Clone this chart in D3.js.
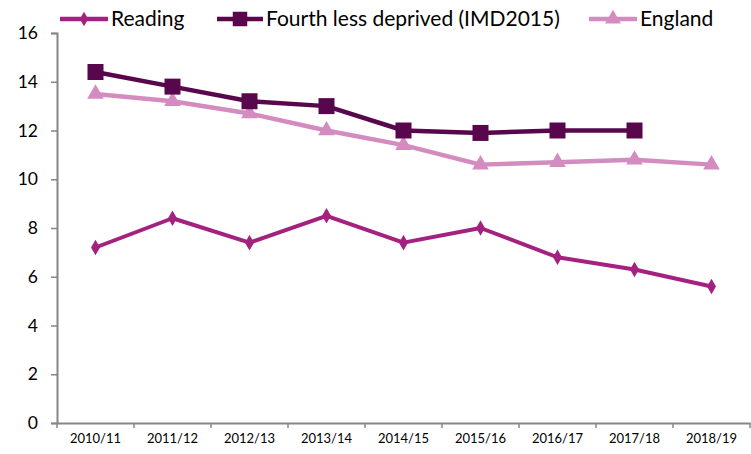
<!DOCTYPE html>
<html><head><meta charset="utf-8">
<script src="https://cdn.jsdelivr.net/npm/d3@7"></script>
<style>
body{margin:0;background:#fff;}
svg{display:block;}
text{font-family:Lato,"Open Sans",sans-serif;fill:#000;}
</style></head>
<body><svg id="c" width="751" height="454"></svg>
<script>
const categories = ["2010/11","2011/12","2012/13","2013/14","2014/15","2015/16","2016/17","2017/18","2018/19"];
const readingValues = [7.2, 8.4, 7.4, 8.5, 7.4, 8.0, 6.8, 6.3, 5.6];
const fourthValues = [14.4, 13.8, 13.2, 13.0, 12.0, 11.9, 12.0, 12.0, null];
const englandValues = [13.5, 13.2, 12.7, 12.0, 11.4, 10.6, 10.7, 10.8, 10.6];
const yTicks = [0, 2, 4, 6, 8, 10, 12, 14, 16];
const seriesNames = ["Reading", "Fourth less deprived (IMD2015)", "England"];

const colors = {reading:"#A5217F", fourth:"#58074D", england:"#D48BBF"};
const axisColor = "#868686";

const svg = d3.select("#c");
const plotLeft = 57, plotRight = 750, plotTop = 33, plotBottom = 423;

const x = d3.scaleBand().domain(categories).range([plotLeft, plotRight]).paddingInner(0).paddingOuter(0);
const y = d3.scaleLinear().domain([0, 16]).range([plotBottom, plotTop]);

// Y axis
const yAxis = svg.append("g").attr("transform", `translate(${plotLeft},0)`)
  .call(d3.axisLeft(y).tickValues(yTicks).tickSize(6).tickPadding(13).tickFormat(d3.format("d")));
yAxis.select(".domain").attr("stroke", axisColor).attr("stroke-width", 2);
yAxis.selectAll(".tick line").attr("stroke", axisColor).attr("stroke-width", 1.5);
yAxis.selectAll("text").style("font-size", "17.5px").style("font-family", "Lato,sans-serif").attr("fill", "#000");

// X axis
const xAxis = svg.append("g").attr("transform", `translate(0,${plotBottom})`)
  .call(d3.axisBottom(x).tickSize(0).tickPadding(11));
xAxis.select(".domain").attr("stroke", axisColor).attr("stroke-width", 2);
xAxis.selectAll("text").style("font-size", "13px").style("font-family", "Lato,sans-serif").attr("fill", "#000");
const boundaries = categories.map(c => x(c)).concat([x(categories[categories.length-1]) + x.bandwidth()]);
svg.append("g").selectAll("line").data(boundaries).join("line")
  .attr("x1", d => d).attr("x2", d => d).attr("y1", plotBottom).attr("y2", plotBottom + 5)
  .attr("stroke", axisColor).attr("stroke-width", 1.5);

const cx = c => x(c) + x.bandwidth() / 2;

function drawSeries(vals, color, width, symbolType, size) {
  const data = categories.map((c, i) => ({c, v: vals[i]}));
  const line = d3.line().defined(d => d.v != null).x(d => cx(d.c)).y(d => y(d.v));
  svg.append("path").datum(data).attr("d", line).attr("fill", "none")
    .attr("stroke", color).attr("stroke-width", width).attr("stroke-linejoin", "round");
  svg.append("g").selectAll("path").data(data.filter(d => d.v != null)).join("path")
    .attr("transform", d => `translate(${cx(d.c)},${y(d.v)})`)
    .attr("d", d3.symbol().type(symbolType).size(size)).attr("fill", color);
}

drawSeries(englandValues, colors.england, 4.5, d3.symbolTriangle, 120);
drawSeries(fourthValues, colors.fourth, 4.5, d3.symbolSquare, 256);
drawSeries(readingValues, colors.reading, 4, d3.symbolDiamond, 70);

// Legend
const legend = [
  {name: seriesNames[0], color: colors.reading, sym: d3.symbolDiamond, size: 60, x1: 60, x2: 108},
  {name: seriesNames[1], color: colors.fourth, sym: d3.symbolSquare, size: 210, x1: 217, x2: 263},
  {name: seriesNames[2], color: colors.england, sym: d3.symbolTriangle, size: 110, x1: 589, x2: 637}
];
const ly = 19;
const lg = svg.append("g");
legend.forEach(l => {
  lg.append("line").attr("x1", l.x1).attr("x2", l.x2).attr("y1", ly).attr("y2", ly)
    .attr("stroke", l.color).attr("stroke-width", 4.5);
  lg.append("path").attr("transform", `translate(${(l.x1 + l.x2) / 2},${ly})`)
    .attr("d", d3.symbol().type(l.sym).size(l.size)).attr("fill", l.color);
  lg.append("text").attr("x", l.x2 + 3).attr("y", ly).attr("dy", "0.35em")
    .style("font-size", "21px").text(l.name);
});
</script></body></html>
